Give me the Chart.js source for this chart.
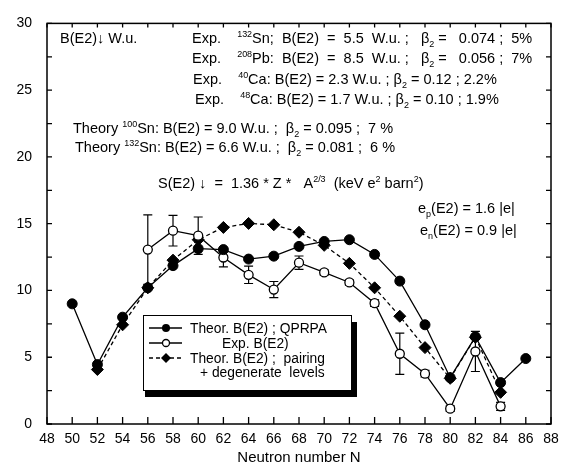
<!DOCTYPE html>
<html>
<head>
<meta charset="utf-8">
<script src="https://cdn.jsdelivr.net/npm/chart.js@4.4.0/dist/chart.umd.min.js"></script>
<style>
  html, body { margin: 0; background: #fff; }
</style>
</head>
<body>
<canvas id="chart" width="569" height="475"></canvas>
<script>
// values
const neutronN = [50, 52, 54, 56, 58, 60, 62, 64, 66, 68, 70, 72, 74, 76, 78, 80, 82, 84, 86];
const qprpa = [9.0, 4.45, 8.0, 10.2, 11.86, 13.13, 13.06, 12.35, 12.57, 13.3, 13.67, 13.8, 12.7, 10.7, 7.43, 3.47, 6.53, 3.1, 4.9];

const expN = [56, 58, 60, 62, 64, 66, 68, 70, 72, 74, 76, 78, 80, 82, 84];
const expB = [13.06, 14.48, 14.1, 12.47, 11.17, 10.07, 12.08, 11.35, 10.6, 9.05, 5.26, 3.77, 1.15, 5.43, 1.32];
const expErr = [2.6, 1.15, 1.4, 0.7, 0.65, 0.6, 0.5, 0.2, 0.2, 0.25, 1.55, 0.25, 0.2, 1.5, 0.3];

const pairingN = [52, 54, 56, 58, 60, 62, 64, 66, 68, 70, 72, 74, 76, 78, 80, 82, 84];
const pairing = [4.08, 7.43, 10.2, 12.27, 13.8, 14.72, 15.02, 14.92, 14.36, 13.38, 12.03, 10.2, 8.07, 5.72, 3.42, 6.5, 2.37];

const xTicks = [48, 88, 2];
const yTicks = [0, 30, 5];

const FONT = "'Liberation Sans', Arial, sans-serif";

function pts(xs, ys) {
  return xs.map((x, i) => ({ x: x, y: ys[i] }));
}

// draws text made of plain / sup / sub pieces, left to right
function richText(ctx, x, y, parts, size) {
  ctx.textBaseline = "alphabetic";
  ctx.textAlign = "left";
  ctx.fillStyle = "#000";
  for (const [txt, kind] of parts) {
    let s = size, dy = 0;
    if (kind === "sup") { s = size * 0.62; dy = -size * 0.42; }
    if (kind === "sub") { s = size * 0.62; dy = size * 0.3; }
    ctx.font = s + "px " + FONT;
    ctx.fillText(txt, x, y + dy);
    x += ctx.measureText(txt).width;
  }
}

const errorBars = {
  id: "errorBars",
  beforeDatasetsDraw(chart) {
    const { ctx, scales: { x, y } } = chart;
    ctx.save();
    ctx.strokeStyle = "#000";
    ctx.lineWidth = 1.2;
    expN.forEach((n, i) => {
      const px = x.getPixelForValue(n);
      const top = y.getPixelForValue(expB[i] + expErr[i]);
      const bot = y.getPixelForValue(expB[i] - expErr[i]);
      ctx.beginPath();
      ctx.moveTo(px, top); ctx.lineTo(px, bot);
      ctx.moveTo(px - 4.5, top); ctx.lineTo(px + 4.5, top);
      ctx.moveTo(px - 4.5, bot); ctx.lineTo(px + 4.5, bot);
      ctx.stroke();
    });
    ctx.restore();
  }
};

const frameAndText = {
  id: "frameAndText",
  afterDatasetsDraw(chart) {
    const { ctx, chartArea: a, scales: { x, y } } = chart;
    ctx.save();
    ctx.strokeStyle = "#000";
    ctx.lineWidth = 1.5;
    ctx.strokeRect(a.left, a.top, a.right - a.left, a.bottom - a.top);

    ctx.lineWidth = 1.3;
    ctx.beginPath();
    for (let v = xTicks[0]; v <= xTicks[1]; v += xTicks[2]) {
      const px = x.getPixelForValue(v);
      ctx.moveTo(px, a.bottom); ctx.lineTo(px, a.bottom - 7);
      ctx.moveTo(px, a.top); ctx.lineTo(px, a.top + 4);
    }
    for (let v = yTicks[0]; v <= yTicks[1]; v += yTicks[2] / 2) {
      const py = y.getPixelForValue(v);
      ctx.moveTo(a.left, py); ctx.lineTo(a.left + 5, py);
      ctx.moveTo(a.right, py); ctx.lineTo(a.right - 5, py);
    }
    ctx.stroke();

    // annotations
    const fs = 14.5;
    richText(ctx, 60, 43, [["B(E2)", ""], ["\u2193", ""], [" W.u.", ""]], fs);
    richText(ctx, 192, 43, [["Exp.    ", ""], ["132", "sup"], ["Sn;  B(E2)  =  5.5  W.u. ;   \u03b2", ""], ["2", "sub"], [" =   0.074 ;  5%", ""]], fs);
    richText(ctx, 192, 63, [["Exp.    ", ""], ["208", "sup"], ["Pb:  B(E2)  =  8.5  W.u. ;   \u03b2", ""], ["2", "sub"], [" =   0.056 ;  7%", ""]], fs);
    richText(ctx, 193, 84, [["Exp.    ", ""], ["40", "sup"], ["Ca: B(E2) = 2.3 W.u. ; \u03b2", ""], ["2", "sub"], [" = 0.12 ; 2.2%", ""]], fs);
    richText(ctx, 195, 104, [["Exp.    ", ""], ["48", "sup"], ["Ca: B(E2) = 1.7 W.u. ; \u03b2", ""], ["2", "sub"], [" = 0.10 ; 1.9%", ""]], fs);
    richText(ctx, 73, 133, [["Theory ", ""], ["100", "sup"], ["Sn: B(E2) = 9.0 W.u. ;  \u03b2", ""], ["2", "sub"], [" = 0.095 ;  7 %", ""]], fs);
    richText(ctx, 75, 152, [["Theory ", ""], ["132", "sup"], ["Sn: B(E2) = 6.6 W.u. ;  \u03b2", ""], ["2", "sub"], [" = 0.081 ;  6 %", ""]], fs);
    richText(ctx, 158, 188, [["S(E2)", ""], [" \u2193", ""], ["  =  1.36 * Z *   A", ""], ["2/3", "sup"], ["  (keV e", ""], ["2", "sup"], [" barn", ""], ["2", "sup"], [")", ""]], fs);
    richText(ctx, 418, 213, [["e", ""], ["p", "sub"], ["(E2) = 1.6 |e|", ""]], fs);
    richText(ctx, 420, 235, [["e", ""], ["n", "sub"], ["(E2) = 0.9 |e|", ""]], fs);

    // legend box with drop shadow
    ctx.fillStyle = "#000";
    ctx.fillRect(145, 322, 212, 75);
    ctx.fillStyle = "#fff";
    ctx.fillRect(143, 315, 208, 75);
    ctx.lineWidth = 1;
    ctx.strokeRect(143.5, 315.5, 208, 75);

    const rows = [328, 343, 358];
    ctx.lineWidth = 1.3;
    rows.forEach((ry, i) => {
      ctx.setLineDash(i === 2 ? [4, 3] : []);
      ctx.beginPath();
      ctx.moveTo(149, ry); ctx.lineTo(182, ry);
      ctx.stroke();
    });
    ctx.setLineDash([]);
    ctx.fillStyle = "#000";
    ctx.beginPath(); ctx.arc(166, rows[0], 4, 0, Math.PI * 2); ctx.fill();
    ctx.fillStyle = "#fff";
    ctx.beginPath(); ctx.arc(166, rows[1], 3.5, 0, Math.PI * 2); ctx.fill(); ctx.stroke();
    ctx.fillStyle = "#000";
    ctx.beginPath();
    ctx.moveTo(166, rows[2] - 5); ctx.lineTo(171, rows[2]); ctx.lineTo(166, rows[2] + 5); ctx.lineTo(161, rows[2]);
    ctx.closePath(); ctx.fill();

    const ls = 13.8;
    richText(ctx, 190, 333, [["Theor. B(E2) ; QPRPA", ""]], ls);
    richText(ctx, 222, 348, [["Exp. B(E2)", ""]], ls);
    richText(ctx, 190, 363, [["Theor. B(E2) ;  pairing", ""]], ls);
    richText(ctx, 200, 377, [["+ degenerate  levels", ""]], ls);
    ctx.restore();
  }
};

new Chart(document.getElementById("chart"), {
  type: "line",
  data: {
    datasets: [
      {
        label: "Theor. B(E2) ; QPRPA",
        data: pts(neutronN, qprpa),
        borderColor: "#000",
        borderWidth: 1.3,
        pointStyle: "circle",
        pointRadius: 5,
        pointBackgroundColor: "#000",
        pointBorderColor: "#000",
        pointBorderWidth: 1,
        tension: 0,
      },
      {
        label: "Exp. B(E2)",
        data: pts(expN, expB),
        borderColor: "#000",
        borderWidth: 1.3,
        pointStyle: "circle",
        pointRadius: 4.5,
        pointBackgroundColor: "#fff",
        pointBorderColor: "#000",
        pointBorderWidth: 1.3,
        tension: 0,
      },
      {
        label: "Theor. B(E2) ; pairing + degenerate levels",
        data: pts(pairingN, pairing),
        borderColor: "#000",
        borderWidth: 1.3,
        borderDash: [4, 3],
        pointStyle: "rectRot",
        pointRadius: 6,
        pointBackgroundColor: "#000",
        pointBorderColor: "#000",
        pointBorderWidth: 1,
        tension: 0,
      },
    ],
  },
  options: {
    responsive: false,
    animation: false,
    layout: { padding: { top: 15, right: 18, left: 0, bottom: 0 } },
    plugins: {
      legend: { display: false },
      tooltip: { enabled: false },
    },
    scales: {
      x: {
        type: "linear",
        min: xTicks[0],
        max: xTicks[1],
        afterFit: (s) => { s.height = 51; },
        grid: { display: false, drawTicks: false },
        border: { display: false },
        ticks: {
          stepSize: xTicks[2],
          autoSkip: false,
          maxRotation: 0,
          padding: 7,
          color: "#000",
          font: { family: FONT, size: 14 },
        },
        title: {
          display: true,
          text: "Neutron number N",
          color: "#000",
          font: { family: FONT, size: 15 },
          padding: { top: 0, bottom: 8 },
        },
      },
      y: {
        min: yTicks[0],
        max: yTicks[1],
        afterFit: (s) => { s.width = 47; },
        grid: { display: false, drawTicks: false },
        border: { display: false },
        ticks: {
          stepSize: yTicks[2],
          padding: 15,
          color: "#000",
          font: { family: FONT, size: 14 },
        },
      },
    },
  },
  plugins: [errorBars, frameAndText],
});
</script>
</body>
</html>
